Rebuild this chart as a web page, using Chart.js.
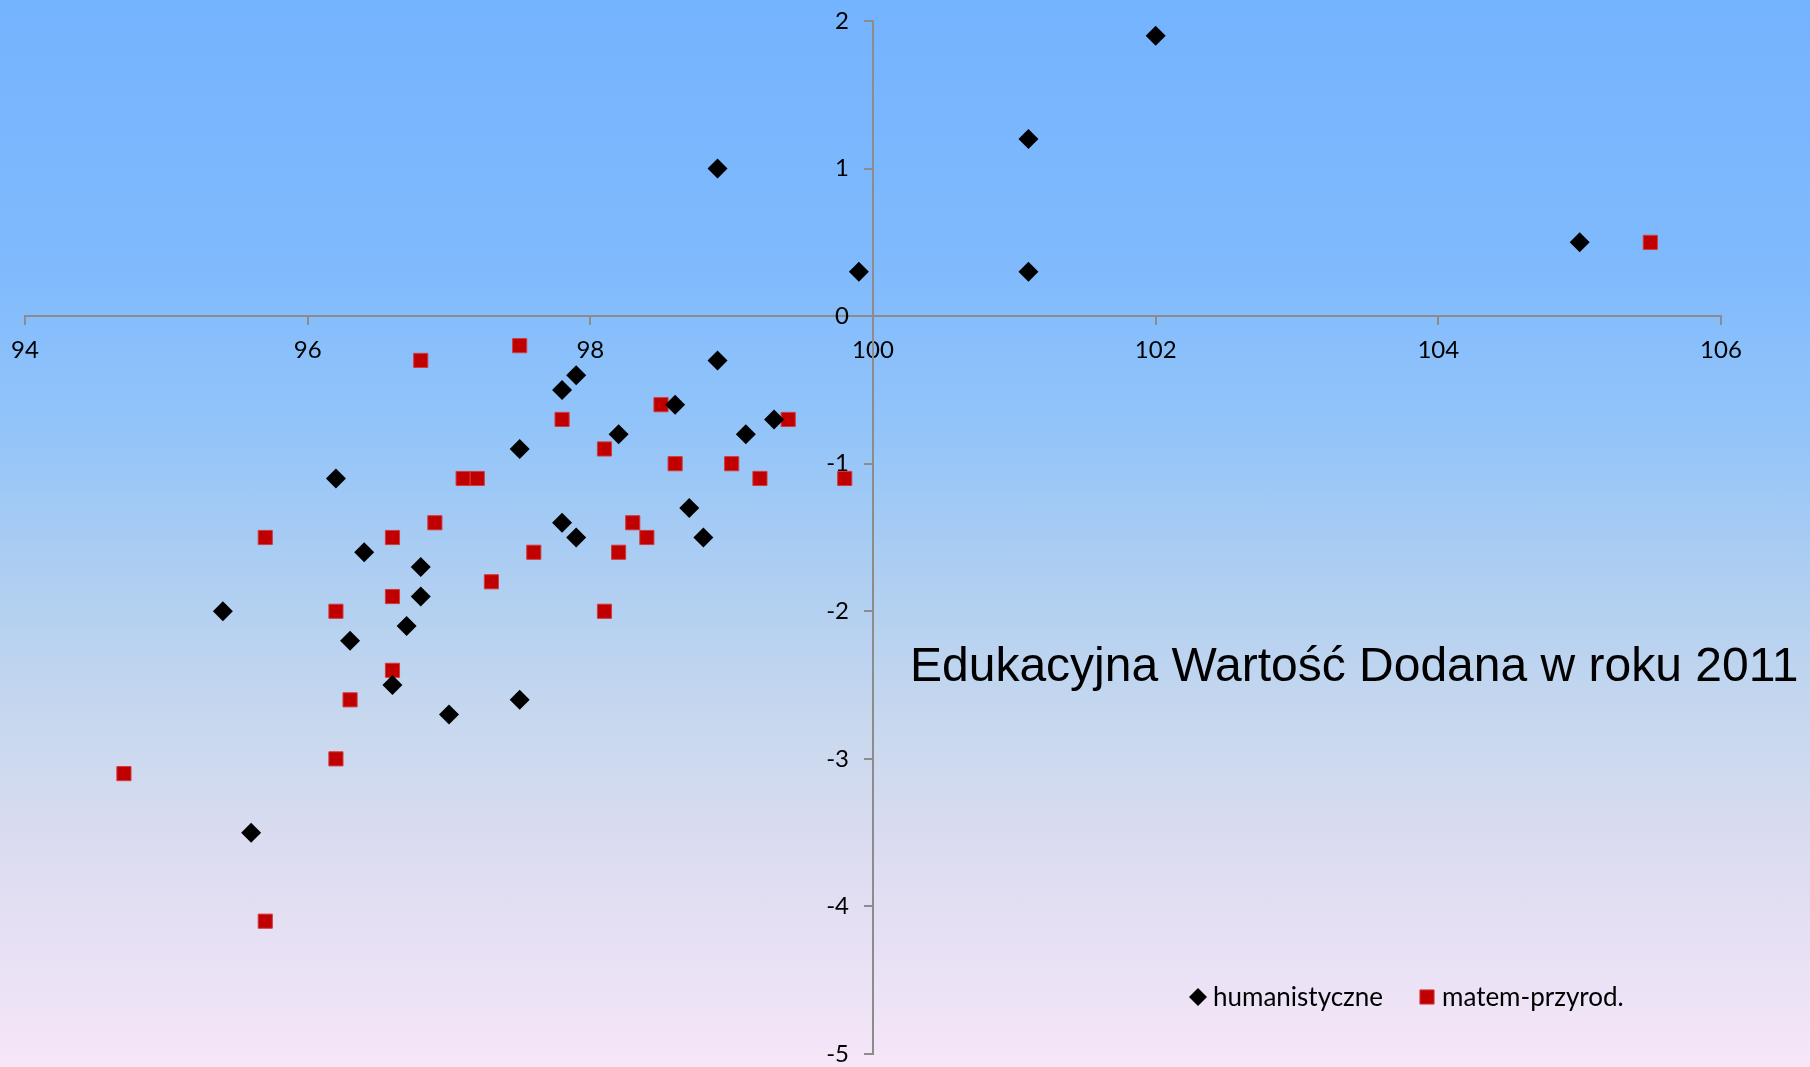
<!DOCTYPE html>
<html>
<head>
<meta charset="utf-8">
<script src="https://cdn.jsdelivr.net/npm/chart.js@4.4.0/dist/chart.umd.min.js"></script>
<style>
  html, body { margin: 0; padding: 0; }
  body {
    width: 1810px; height: 1067px; overflow: hidden;
    background: linear-gradient(to bottom, #74b3fe 0%, #80bafd 25%, #92c4f9 40%, #b0cff1 55%, #c8d8ee 68%, #dcdcf1 80%, #f6e6f8 100%);
  }
  #wrap { position: relative; width: 1810px; height: 1067px; }
</style>
</head>
<body>
<div id="wrap"><canvas id="myChart"></canvas></div>
<script>
// series names and data
const seriesNames = ["humanistyczne", "matem-przyrod."];

const humX = [98.9, 99.9, 101.1, 101.1, 102.0, 105.0, 98.9, 97.9, 97.8, 98.6,
              99.3, 99.1, 98.2, 97.5, 96.2, 98.7, 97.8, 97.9, 98.8, 96.4,
              96.8, 96.8, 95.4, 96.7, 96.3, 96.6, 97.5, 97.0, 95.6];
const humY = [1.0, 0.3, 1.2, 0.3, 1.9, 0.5, -0.3, -0.4, -0.5, -0.6,
              -0.7, -0.8, -0.8, -0.9, -1.1, -1.3, -1.4, -1.5, -1.5, -1.6,
              -1.7, -1.9, -2.0, -2.1, -2.2, -2.5, -2.6, -2.7, -3.5];

const matX = [105.5, 97.5, 96.8, 98.5, 97.8, 99.4, 98.1, 98.6, 99.0, 97.1,
              97.2, 99.2, 99.8, 96.9, 98.3, 95.7, 96.6, 98.4, 97.6, 98.2,
              97.3, 96.6, 96.2, 98.1, 96.6, 96.3, 96.2, 94.7, 95.7];
const matY = [0.5, -0.2, -0.3, -0.6, -0.7, -0.7, -0.9, -1.0, -1.0, -1.1,
              -1.1, -1.1, -1.1, -1.4, -1.4, -1.5, -1.5, -1.5, -1.6, -1.6,
              -1.8, -1.9, -2.0, -2.0, -2.4, -2.6, -3.0, -3.1, -4.1];

const xTicks = [94, 96, 98, 100, 102, 104, 106];
const yTicks = [2, 1, 0, -1, -2, -3, -4, -5];
const chartTitle = "Edukacyjna Wartość Dodana w roku 2011";

function toPoints(xs, ys) {
    return xs.map((x, i) => ({ x: x, y: ys[i] }));
}

const axisGray = "#8c8c8c";
const tickFont = { family: "Lato, 'Open Sans', sans-serif", size: 24 };

// chart.js ignores ticks.padding for a y axis placed at {x: value}, so push the labels left here
function shiftYLabels(s) {
    if (s._shiftPatched) return;
    s._shiftPatched = true;
    const orig = s._computeLabelItems;
    s._computeLabelItems = function (area) {
        const items = orig.call(this, area);
        const gap = this.options.grid.tickLength + this.options.ticks.padding;
        items.forEach(it => { it.options.translation[0] -= gap; });
        return items;
    };
}

// title and legend sit inside the plot, like in the original
const overlay = {
    id: "overlay",
    afterDraw(chart) {
        const ctx = chart.ctx;
        ctx.save();
        ctx.fillStyle = "#000";
        ctx.textAlign = "left";
        ctx.textBaseline = "alphabetic";
        ctx.font = "48px 'Liberation Sans', Arial, sans-serif";
        ctx.fillText(chartTitle, 910, 681);

        const items = [
            { x: 1198, textX: 1213 },
            { x: 1427, textX: 1442 }
        ];
        ctx.font = "26px Lato, 'Open Sans', sans-serif";
        ctx.textBaseline = "middle";
        chart.data.datasets.forEach((ds, i) => {
            const it = items[i];
            ctx.fillStyle = ds.backgroundColor;
            ctx.strokeStyle = ds.borderColor;
            Chart.helpers.drawPoint(ctx, {
                pointStyle: ds.pointStyle,
                radius: i === 0 ? 9 : ds.pointRadius,
                rotation: 0,
                borderWidth: ds.borderWidth
            }, it.x, 997);
            ctx.fillStyle = "#000";
            ctx.fillText(ds.label, it.textX, 998);
        });
        ctx.restore();
    }
};

let myChart = document.getElementById("myChart").getContext("2d");

let eduChart = new Chart(myChart, {
    type: "scatter",
    data: {
        datasets: [
            {
                label: seriesNames[0],
                data: toPoints(humX, humY),
                pointStyle: "rectRot",
                pointRadius: 10,
                borderWidth: 0,
                borderColor: "#000000",
                backgroundColor: "#000000"
            },
            {
                label: seriesNames[1],
                data: toPoints(matX, matY),
                pointStyle: "rect",
                pointRadius: 10,
                borderWidth: 1,
                borderColor: "#d23a3a",
                backgroundColor: "#c00000"
            }
        ]
    },
    options: {
        responsive: true,
        maintainAspectRatio: false,
        animation: false,
        layout: { padding: { left: 25, right: 89, top: 21, bottom: 13 } },
        plugins: {
            legend: { display: false },
            tooltip: { enabled: false }
        },
        scales: {
            x: {
                type: "linear",
                position: { y: 0 },
                min: 94,
                max: 106,
                afterBuildTicks: s => { s.ticks = xTicks.map(v => ({ value: v })); },
                afterFit: s => { s.height = 0; s.paddingLeft = 0; s.paddingRight = 0; s.paddingTop = 0; s.paddingBottom = 0; },
                grid: { drawOnChartArea: false, drawTicks: true, tickLength: 8, color: axisGray, lineWidth: 2 },
                border: { display: true, color: axisGray, width: 2 },
                ticks: { color: "#000", font: tickFont, padding: 12, maxRotation: 0 }
            },
            y: {
                type: "linear",
                position: { x: 100 },
                min: -5,
                max: 2,
                afterBuildTicks: s => { s.ticks = yTicks.map(v => ({ value: v })); },
                afterFit: s => {
                    s.width = 0; s.paddingLeft = 0; s.paddingRight = 0; s.paddingTop = 0; s.paddingBottom = 0;
                    shiftYLabels(s);
                },
                grid: { drawOnChartArea: false, drawTicks: true, tickLength: 8, color: axisGray, lineWidth: 2 },
                border: { display: true, color: axisGray, width: 2 },
                ticks: { color: "#000", font: tickFont, padding: 16 }
            }
        }
    },
    plugins: [overlay]
});
</script>
</body>
</html>
